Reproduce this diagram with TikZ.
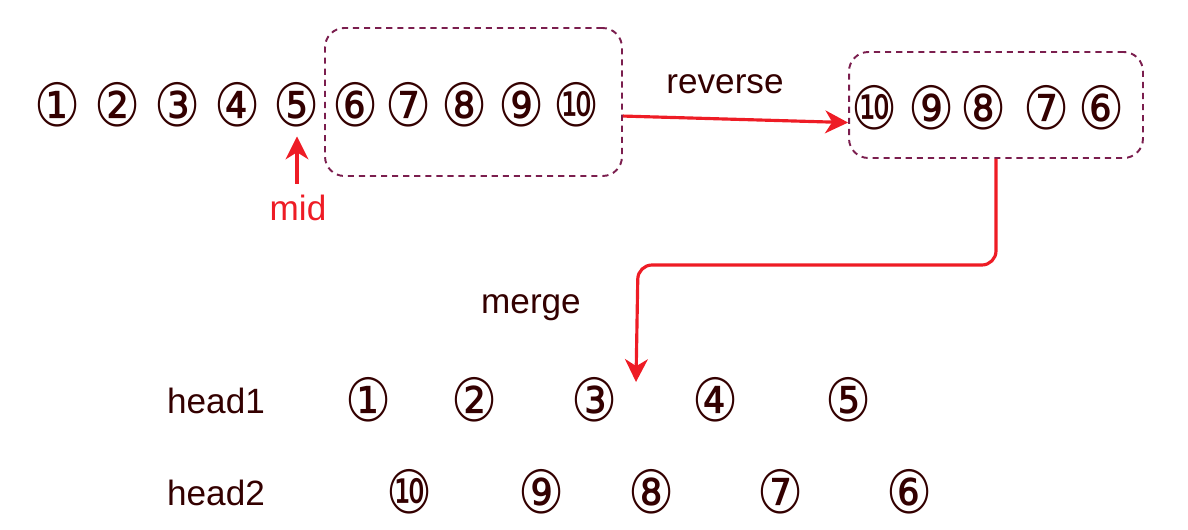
\documentclass[tikz,border=0pt]{standalone}
\usepackage{fontspec}
\setmainfont{Liberation Sans}
\newfontfamily\circfont{DejaVu Sans}
\usetikzlibrary{arrows.meta}

\definecolor{textbrown}{HTML}{330000}
\definecolor{boxline}{HTML}{7B1E4E}
\definecolor{arrowred}{HTML}{EE1C25}

\newcommand{\circnum}[1]{\scalebox{0.86}[1]{\char\numexpr"245F+#1\relax}}

\tikzset{
  num/.style={font=\circfont\fontsize{34}{34}\selectfont, text=textbrown, inner sep=0pt},
  lbl/.style={font=\fontsize{20}{20}\selectfont, text=textbrown},
  dashbox/.style={draw=boxline, dashed, line width=1.1pt, dash pattern=on 3.5pt off 2.8pt, rounded corners=11pt},
  redarrow/.style={draw=arrowred, line width=1.8pt, rounded corners=8pt, -{Stealth[length=13pt,width=13pt,inset=4pt]}}
}

\begin{document}
\begin{tikzpicture}[x=0.02cm, y=-0.02cm]
  \useasboundingbox (0,0) rectangle (1188,530);

  % the two dashed groups
  \node[dashbox, minimum width=5.94cm, minimum height=2.96cm] (box1) at (473.5,102) {};
  \node[dashbox, minimum width=5.88cm, minimum height=2.12cm] (box2) at (996,105) {};

  % list 1 .. 10
  \foreach \n/\x in {1/58, 2/118, 3/178, 4/238, 5/297, 6/356, 7/409, 8/465, 9/522, 10/577}
    \node[num] (a\n) at (\x,105) {\circnum{\n}};

  % second half reversed
  \foreach \n/\x in {10/875, 9/932, 8/984, 7/1047, 6/1102}
    \node[num] (b\n) at (\x,108) {\circnum{\n}};

  % the two heads
  \node[lbl] (head1) at (216,401) {head1};
  \node[lbl] (head2) at (216,493) {head2};
  \foreach \n/\x in {1/369, 2/475, 3/595, 4/716, 5/849}
    \node[num] (p\n) at (\x,400) {\circnum{\n}};
  \foreach \n/\x in {10/410, 9/542, 8/652, 7/781, 6/910}
    \node[num] (q\n) at (\x,492) {\circnum{\n}};

  % labels
  \node[lbl] (reverse) at (725,84) {reverse};
  \node[lbl] (merge) at (531,308) {merge};
  \node[lbl, text=arrowred] (mid) at (298,208) {mid};

  % arrows
  \draw[redarrow] ([yshift=3pt]a5.south |- mid.north) -- ([yshift=-5pt]a5.south);
  \draw[redarrow] ([yshift=-8pt]box1.east) -- ([yshift=-10pt]box2.west);
  \coordinate (mergetip) at (636,382);
  \draw[redarrow] (box2.south) -- (996,265) -- (638,265) -- (mergetip);
\end{tikzpicture}
\end{document}
